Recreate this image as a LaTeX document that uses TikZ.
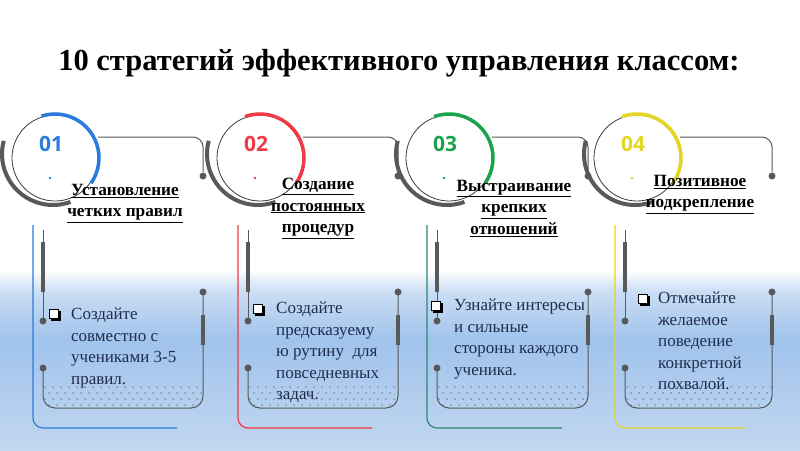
\documentclass[tikz,border=0pt]{standalone}
\usepackage{fontspec}
\setmainfont{Liberation Serif}
\newfontfamily\numfont{Open Sans}
\definecolor{cblue}{HTML}{2A7BDE}
\definecolor{cred}{HTML}{EE3B45}
\definecolor{cgreen}{HTML}{1BA34C}
\definecolor{cteal}{HTML}{2B8A6E}
\definecolor{cyellow}{HTML}{E2D620}
\definecolor{arcgray}{HTML}{58595B}
\definecolor{thingray}{HTML}{3D3D3D}
\definecolor{navy}{HTML}{1F2D4D}
\definecolor{bgZ}{HTML}{CADDF4}
\definecolor{bgA}{HTML}{A0C3EC}
\definecolor{bgB}{HTML}{C2D7F0}
\definecolor{dotc}{HTML}{5F6B7A}
\tikzset{
  conn/.style={draw=arcgray,line width=1pt},
  numstyle/.style={font=\numfont\bfseries\fontsize{21}{24}\selectfont,inner sep=0pt},
  ttl/.style={font=\bfseries\fontsize{17.2}{21.5}\selectfont,align=center,anchor=north,inner sep=0pt,text=black},
  bodytxt/.style={font=\fontsize{17}{21.5}\selectfont,align=left,anchor=north west,inner sep=0pt,text=navy},
}
% #1 shift, #2 right x (relative), #3 colour, #4 number, #5 id, #6 arc start, #7 L-line colour
\newcommand{\panel}[7]{%
\begin{scope}[shift={(#1,0)}]
  \draw[line width=4pt,draw=arcgray] (53,154) ++(-165:51) arc[start angle=-165,end angle=-290,radius=51];
  \draw[line width=0.8pt,draw=thingray] (55,158) circle[radius=43];
  \draw[line width=3.5pt,draw=#3] (55,158) ++(#6:44) arc[start angle=#6,end angle=35,radius=44];
  \draw[conn] (98,137) -- (#2-10,137) arc[start angle=-90,end angle=0,radius=10] -- (#2,172);
  \fill[arcgray] (#2,176) circle[radius=3.5];
  \node[numstyle,text=#3] (num#5) at (51,144) {#4};
  \fill[#3] (50,178) circle[radius=1.3];
  \draw[draw=#7,line width=1.2pt] (33,225) -- (33,418) arc[start angle=180,end angle=90,radius=10] -- (#2-26,428);
  \draw[conn] (43,230) -- (43,320);
  \fill[arcgray] (41.2,242) rectangle (44.8,292);
  \fill[arcgray] (43,321) circle[radius=3.5];
  \begin{scope}
    \clip (43,384) -- (43,396) arc[start angle=180,end angle=90,radius=12] -- (#2-12,408) arc[start angle=90,end angle=0,radius=12] -- (#2,384) -- cycle;
    \foreach \j/\o in {0/0,1/4,2/0,3/4}{\foreach \i in {0,...,21}{\fill[dotc] (45+\o+8*\i,387+6*\j) circle[radius=0.75];}}
  \end{scope}
  \draw[conn] (43,368) -- (43,396) arc[start angle=180,end angle=90,radius=12] -- (#2-12,408) arc[start angle=90,end angle=0,radius=12] -- (#2,292);
  \fill[arcgray] (43,368) circle[radius=3.5];
  \fill[arcgray] (#2,292) circle[radius=3.5];
  \fill[arcgray] (#2-2,315) rectangle (#2+2,345);
\end{scope}}
\newcommand{\bulletbox}[2]{%
  \fill[black] (#1-3.5,#2-3.5) rectangle (#1+6.5,#2+6.5);
  \filldraw[fill=white,draw=black,line width=0.9pt] (#1-5,#2-5) rectangle (#1+4.5,#2+4.5);}
\begin{document}
\begin{tikzpicture}[x=1pt,y=-1pt]
\useasboundingbox (0,0) rectangle (800,450);
\fill[white] (0,0) rectangle (800,450);
\shade[top color=white,bottom color=bgZ] (0,270) rectangle (800,292);
\shade[top color=bgZ,bottom color=bgA] (0,292) rectangle (800,340);
\shade[top color=bgA,bottom color=bgB] (0,340) rectangle (800,450);

\node[font=\bfseries\fontsize{30.5}{34}\selectfont,inner sep=0pt,anchor=base] (title) at (399,70) {10 стратегий эффективного управления классом:};

\panel{0}{203}{cblue}{01}{a}{-108}{cblue}
\panel{205}{193}{cred}{02}{b}{-110}{cred}
\panel{394}{194}{cgreen}{03}{c}{-110}{cteal}
\panel{582}{190}{cyellow}{04}{d}{-110}{cyellow}

\node[ttl] (t1) at (125,184) {\underline{Установление}\\\underline{четких правил}};
\node[ttl] (t2) at (318,178) {\underline{Создание}\\\underline{постоянных}\\\underline{процедур}};
\node[ttl] (t3) at (514,180) {\underline{Выстраивание}\\\underline{крепких}\\\underline{отношений}};
\node[ttl] (t4) at (700,175) {\underline{Позитивное}\\\underline{подкрепление}};

\bulletbox{54}{314}
\bulletbox{258}{309}
\bulletbox{436}{306}
\bulletbox{643}{299}

\node[bodytxt] (b1) at (71,308) {Создайте\\совместно с\\учениками 3-5\\правил.};
\node[bodytxt] (b2) at (276,302) {Создайте\\предсказуему\\ю рутину\ \ для\\повседневных\\задач.};
\node[bodytxt] (b3) at (454,299) {Узнайте интересы\\и сильные\\стороны каждого\\ученика.};
\node[bodytxt] (b4) at (658,292) {Отмечайте\\желаемое\\поведение\\конкретной\\похвалой.};
\end{tikzpicture}
\end{document}
